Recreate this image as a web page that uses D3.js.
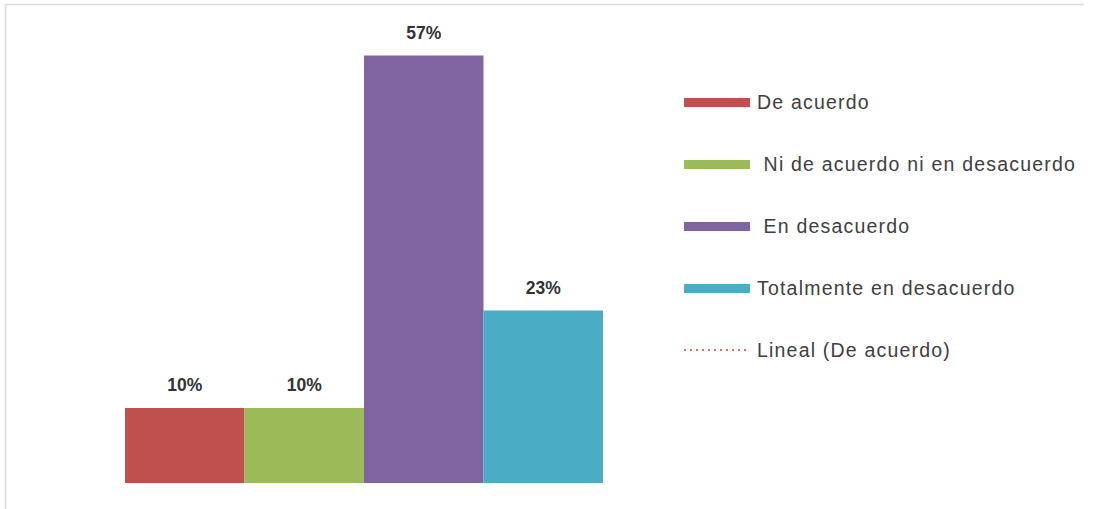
<!DOCTYPE html>
<html>
<head>
<meta charset="utf-8">
<script src="https://cdn.jsdelivr.net/npm/d3@7"></script>
<style>
  html, body { margin: 0; padding: 0; background: #fff; }
  svg { display: block; }
  text { white-space: pre; }
</style>
</head>
<body>
<svg id="chart" width="1093" height="509"></svg>
<script>
// Survey answers and their shares
const categories = ["De acuerdo", " Ni de acuerdo ni en desacuerdo", " En desacuerdo", "Totalmente en desacuerdo"];
const values = [0.10, 0.10, 0.57, 0.23];
const colors = ["#c0504d", "#9bbb59", "#8064a2", "#4bacc6"];
const trendLabel = "Lineal (De acuerdo)";

const svg = d3.select("#chart");
const W = 1093, H = 509;

// frame (top and left edge only)
svg.append("line").attr("x1", 5.5).attr("x2", 1084).attr("y1", 4.5).attr("y2", 4.5)
  .attr("stroke", "#d9d9d9").attr("stroke-width", 1.5);
svg.append("line").attr("x1", 5.5).attr("x2", 5.5).attr("y1", 4.5).attr("y2", H)
  .attr("stroke", "#d9d9d9").attr("stroke-width", 1.5);

const x = d3.scaleBand().domain(categories).range([125, 603]).padding(0);
const y = d3.scaleLinear().domain([0, 0.6]).range([483, 33]);

const fmt = d3.format(".0%");

svg.append("g").selectAll("rect")
  .data(categories)
  .join("rect")
  .attr("x", d => x(d))
  .attr("width", x.bandwidth())
  .attr("y", (d, i) => y(values[i]))
  .attr("height", (d, i) => y(0) - y(values[i]))
  .attr("fill", (d, i) => colors[i]);

svg.append("g").selectAll("text")
  .data(categories)
  .join("text")
  .attr("x", d => x(d) + x.bandwidth() / 2)
  .attr("y", (d, i) => y(values[i]) - 17)
  .attr("text-anchor", "middle")
  .attr("font-family", "Liberation Sans, Arial, sans-serif")
  .attr("font-weight", "bold")
  .attr("font-size", 17.5)
  .attr("fill", "#333333")
  .text((d, i) => fmt(values[i]));

// legend
const legendY = d3.scalePoint().domain(d3.range(categories.length + 1)).range([102, 350]);
const lg = svg.append("g").attr("font-family", "Liberation Sans, Arial, sans-serif")
  .attr("font-size", 19.5).attr("letter-spacing", 1.2).attr("fill", "#404040");

categories.forEach((c, i) => {
  lg.append("rect").attr("x", 684).attr("y", legendY(i) - 4).attr("width", 66).attr("height", 9)
    .attr("fill", colors[i]);
  lg.append("text").attr("x", 757).attr("y", legendY(i) + 7).text(c);
});

const li = categories.length;
lg.append("line").attr("x1", 684).attr("x2", 750)
  .attr("y1", legendY(li)).attr("y2", legendY(li))
  .attr("stroke", "#d0706d").attr("stroke-width", 2).attr("stroke-dasharray", "2,4");
lg.append("text").attr("x", 757).attr("y", legendY(li) + 7).text(trendLabel);
</script>
</body>
</html>
